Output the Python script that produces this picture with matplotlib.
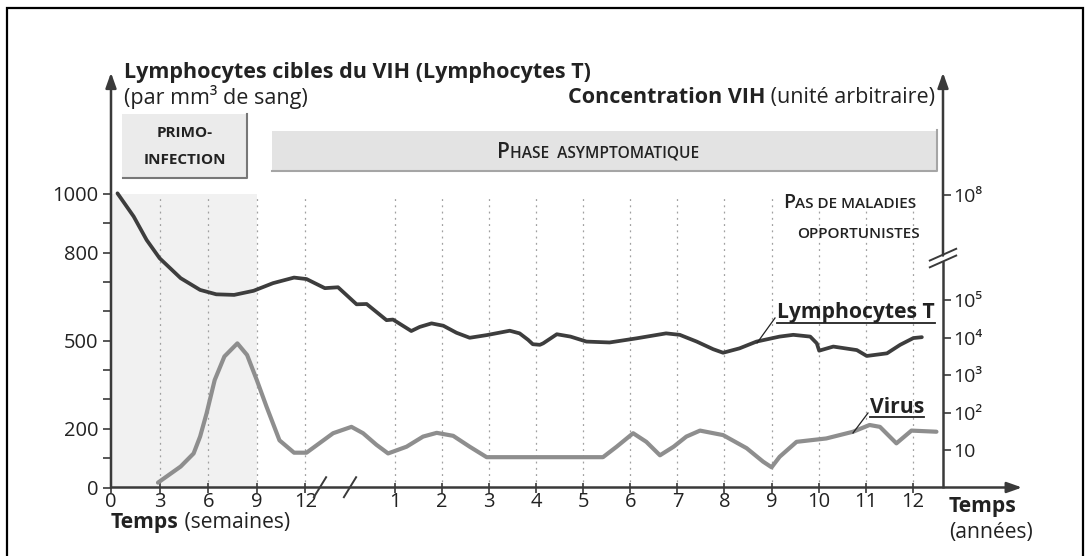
import numpy as np
import matplotlib
matplotlib.use("Agg")
import matplotlib.pyplot as plt
from matplotlib.lines import Line2D
from matplotlib.patches import Rectangle
from matplotlib.text import Annotation

plt.rcParams['font.family'] = ['Open Sans', 'DejaVu Sans']

# --- data ---
# lymphocytes T (per mm3): first part in weeks (weeks > 12 fall in the broken gap), then in years
lympho_weeks = [0.4, 1.4, 2.2, 3.0, 4.3, 5.5, 6.5, 7.6, 8.8, 10.0, 11.3, 12.5, 20.7, 26.6, 34.9, 39.4, 48.3, 51.2]
lympho_weeks_val = [1002, 923, 843, 781, 713, 673, 658, 656, 670, 696, 715, 710, 679, 682, 624, 625, 570, 572]
lympho_years = [1.35, 1.53, 1.78, 2.03, 2.31, 2.59, 2.95, 3.44, 3.65, 3.83,
                3.93, 4.08, 4.15, 4.44, 4.73, 5.07, 5.56, 6.13, 6.76, 7.05,
                7.41, 7.76, 7.97, 8.32, 8.68, 9.17, 9.46, 9.82, 9.96, 10.01,
                10.31, 10.81, 11.02, 11.45, 11.73, 12.01, 12.19]
lympho_years_val = [533, 547, 559, 551, 527, 510, 519, 534, 525, 503,
                    488, 486, 491, 522, 514, 497, 494, 508, 525, 520,
                    497, 471, 459, 474, 497, 514, 520, 514, 491, 466,
                    480, 468, 448, 457, 486, 509, 512]

# virus concentration, as power of ten (arbitrary unit)
virus_weeks = [2.9, 4.3, 5.1, 5.5, 5.9, 6.4, 7.0, 7.8, 8.4, 9.0, 9.6, 10.4, 11.3, 12.5, 24.4, 32.6, 37.8, 43.8, 49.0]
virus_weeks_log = [0.13, 0.56, 0.91, 1.36, 1.98, 2.87, 3.50, 3.85, 3.54, 2.87, 2.16, 1.26, 0.93, 0.93, 1.45, 1.62, 1.45, 1.14, 0.91]
virus_years = [1.25, 1.60, 1.89, 2.24, 2.59, 2.95, 5.42, 5.71, 6.06, 6.34,
               6.63, 6.92, 7.19, 7.48, 7.97, 8.47, 8.82, 9.00, 9.17, 9.53,
               10.16, 10.73, 11.08, 11.30, 11.65, 11.97, 12.50]
virus_years_log = [1.09, 1.36, 1.46, 1.38, 1.09, 0.81, 0.81, 1.09, 1.45, 1.22,
                   0.86, 1.09, 1.36, 1.52, 1.40, 1.05, 0.69, 0.54, 0.82, 1.22,
                   1.31, 1.49, 1.67, 1.62, 1.18, 1.52, 1.49]

week_ticks = [0, 3, 6, 9, 12]
year_ticks = list(range(1, 13))
left_ticks = list(range(0, 1001, 100))
left_labels = {0: '0', 200: '200', 500: '500', 800: '800', 1000: '1000'}
right_ticks = [1, 2, 3, 4, 5]
right_labels = ['10', '10²', '10³', '10⁴', '10⁵']

# --- broken time axis: 1 unit = spacing of one year tick ---
WK = 16.2 / 47.1          # one week
GAP = 1.898               # 12 weeks -> 1 year squeezed in the break
Y1 = 12 * WK + GAP        # position of year 1


def pos_w(w):
    w = np.asarray(w, float)
    return np.where(w <= 12, w * WK, 12 * WK + (w - 12) / 40 * GAP)


def pos_y(y):
    return Y1 + np.asarray(y, float) - 1


W, H = 1090, 556
fig = plt.figure(figsize=(W / 100, H / 100), dpi=100)
ax = fig.add_axes([111 / W, 68.5 / H, 832 / W, 412.5 / H])
XR = 832 / 47.1
YTOP = 1405
DEC = 127.5  # left units per decade of the right axis
ax.set_xlim(0, XR)
ax.set_ylim(0, YTOP)
ax.patch.set_visible(False)
for s in ax.spines.values():
    s.set_visible(False)

AX_C = '#3a3a3a'
TXT = '#222222'
FS = 15.5


def fpx(x, y):
    return x / W, 1 - y / H


# frame
fig.patches.append(Rectangle((7 / W, -0.02), 1076 / W, 1 - 8 / H + 0.02, transform=fig.transFigure,
                             fill=False, edgecolor='black', lw=1.6, zorder=-1))

# shaded primo-infection and dotted guides
ax.fill_between([0, pos_w(9)], 0, 1000, color='#f1f1f1', zorder=0, lw=0)
xt = list(pos_w(week_ticks)) + list(pos_y(year_ticks))
ax.vlines(xt[1:], 0, 985, colors='#a0a0a0', linestyles=(0, (1.5, 3.5)), lw=0.9, zorder=1)

# curves
lx = np.concatenate([pos_w(lympho_weeks), pos_y(lympho_years)])
ly = np.array(lympho_weeks_val + lympho_years_val)
ax.plot(lx, ly, color='#3d3d3d', lw=2.7, solid_capstyle='round', solid_joinstyle='round', zorder=4)

ax2 = ax.twinx()
ax2.set_ylim(0, YTOP / DEC)
ax2.patch.set_visible(False)
for s in ax2.spines.values():
    s.set_visible(False)
vx = np.concatenate([pos_w(virus_weeks), pos_y(virus_years)])
vy = np.array(virus_weeks_log + virus_years_log)
ax2.plot(vx, vy, color='#8e8e8e', lw=3.0, solid_capstyle='round', solid_joinstyle='round', zorder=4)

# axes lines with arrows
arr = dict(arrowstyle='-|>,head_length=0.9,head_width=0.32', lw=1.8, color=AX_C, shrinkA=0, shrinkB=0)
ax.annotate('', xy=(0, YTOP + 8), xytext=(0, 0), arrowprops=arr, annotation_clip=False)
ax.annotate('', xy=((1022 - 111) / 47.1, 0), xytext=(0, 0), arrowprops=arr, annotation_clip=False)
ax.plot([XR, XR], [0, 772], color=AX_C, lw=1.8, clip_on=False, solid_capstyle='butt')
ax.annotate('', xy=(XR, YTOP + 8), xytext=(XR, 790), arrowprops=arr, annotation_clip=False)

# break marks
for bx in [(320 - 111) / 47.1, (350 - 111) / 47.1]:
    ax.plot([bx - 0.13, bx + 0.13], [-33, 35], color=AX_C, lw=1.4, clip_on=False)
for by in [770, 793]:
    ax.plot([XR - 0.28, XR + 0.28], [by - 20, by + 20], color=AX_C, lw=1.4, clip_on=False)

# ticks
ax.set_yticks(left_ticks, [left_labels.get(v, '') for v in left_ticks])
ax.tick_params(axis='y', direction='out', length=6, width=1.2, color=AX_C, pad=3,
               labelsize=14.5, labelcolor=TXT)
ax.set_xticks(xt, [str(v) for v in week_ticks] + [str(v) for v in year_ticks])
ax.tick_params(axis='x', direction='inout', length=7, width=1.2, color=AX_C, pad=0,
               labelsize=14.5, labelcolor=TXT)
ax2.set_yticks(right_ticks + [997 / DEC], right_labels + ['10⁸'])
ax2.tick_params(axis='y', direction='out', length=6, width=1.2, color=AX_C, pad=1,
                labelsize=14, labelcolor=TXT)


def chain(x, y, pieces, ha='left'):
    """draw text pieces side by side on one baseline; pieces = (text, size, weight)"""
    prev = None
    seq = pieces if ha == 'left' else pieces[::-1]
    for s, size, wt in seq:
        if prev is None:
            prev = fig.text(*fpx(x, y), s, fontsize=size, fontweight=wt, ha=ha, va='baseline', color=TXT)
        else:
            a = Annotation(s, xy=(1 if ha == 'left' else 0, 1 - y / H),
                           xycoords=(prev, 'figure fraction'), fontsize=size, fontweight=wt,
                           ha=ha, va='baseline', color=TXT, annotation_clip=False)
            prev = fig.add_artist(a)
    return prev


# titles
chain(124, 78, [('Lymphocytes cibles du VIH (Lymphocytes T)', FS, 'bold')])
chain(124, 104, [('(par mm³ de sang)', FS, 'normal')])
chain(935, 103, [('Concentration VIH', FS, 'bold'), (' (unité arbitraire)', FS, 'normal')], ha='right')
chain(111, 528, [('Temps', FS - 0.3, 'bold'), (' (semaines)', FS - 0.3, 'normal')])
chain(949, 512, [('Temps', FS - 0.3, 'bold')])
chain(949, 538, [('(années)', FS - 0.3, 'normal')])

# phase boxes
fig.patches.append(Rectangle(fpx(122, 177), 125 / W, 63 / H, transform=fig.transFigure,
                             facecolor='#ebebeb', edgecolor='none', zorder=-1))
fig.lines.append(Line2D([247 / W, 247 / W, 123 / W], [1 - 114 / H, 1 - 178 / H, 1 - 178 / H],
                        transform=fig.transFigure, color='#777777', lw=1.5))
fig.text(*fpx(185, 133), 'PRIMO-', fontsize=11, fontweight='bold', ha='center', va='center', color=TXT)
fig.text(*fpx(185, 160), 'INFECTION', fontsize=11, fontweight='bold', ha='center', va='center', color=TXT)

fig.patches.append(Rectangle(fpx(272, 170), 665 / W, 39 / H, transform=fig.transFigure,
                             facecolor='#e3e3e3', edgecolor='none', zorder=-1))
fig.lines.append(Line2D([937 / W, 937 / W, 272 / W], [1 - 130 / H, 1 - 171 / H, 1 - 171 / H],
                        transform=fig.transFigure, color='#a5a5a5', lw=1.5))
chain(497, 158, [('P', 15, 'semibold'), ('HASE  ASYMPTOMATIQUE', 11.2, 'semibold')])

chain(783, 208, [('P', 14, 'semibold'), ('AS DE MALADIES', 11, 'semibold')])
fig.text(*fpx(858, 238), 'OPPORTUNISTES', fontsize=11, fontweight='semibold', ha='center', va='baseline',
         color=TXT)

# curve labels, underlined, with leader lines
t_l = fig.text(*fpx(777, 318), 'Lymphocytes T', fontsize=FS - 0.3, fontweight='bold', ha='left',
               va='baseline', color=TXT)
t_v = fig.text(*fpx(870, 413), 'Virus', fontsize=FS - 0.3, fontweight='bold', ha='left', va='baseline',
               color=TXT)
fig.canvas.draw()
for t, uy in [(t_l, 323), (t_v, 417)]:
    bb = t.get_window_extent()
    fig.lines.append(Line2D([bb.x0 / W, bb.x1 / W], [1 - uy / H] * 2, transform=fig.transFigure,
                            color=TXT, lw=1.3))
fig.lines.append(Line2D([775 / W, 757 / W], [1 - 318 / H, 1 - 343 / H], transform=fig.transFigure,
                        color=TXT, lw=0.9))
fig.lines.append(Line2D([868 / W, 853 / W], [1 - 413 / H, 1 - 433 / H], transform=fig.transFigure,
                        color=TXT, lw=0.9))

fig.savefig('out.png', dpi=100)
